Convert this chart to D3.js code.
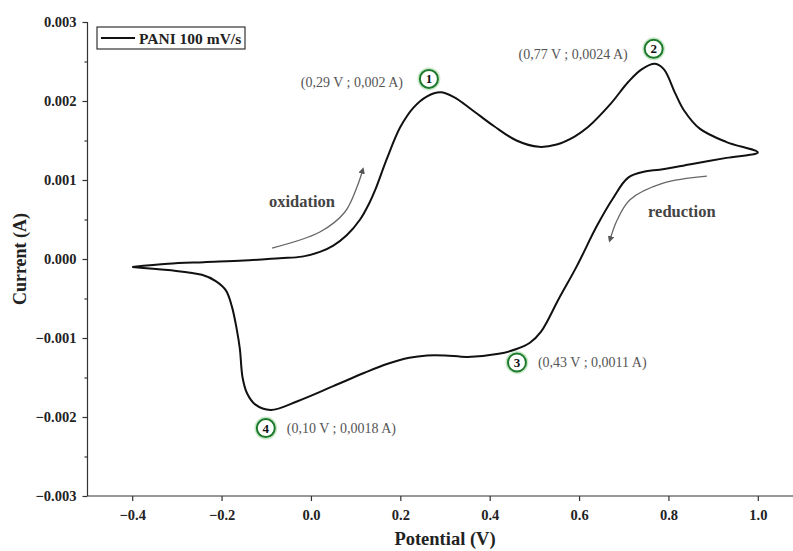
<!DOCTYPE html>
<html>
<head>
<meta charset="utf-8">
<script src="https://cdn.jsdelivr.net/npm/d3@7"></script>
<style>
    body { margin: 0; background: #fff; }
    svg { display: block; font-family: "Liberation Serif", "DejaVu Serif", serif; }
    .axis path, .axis line { stroke: #333; stroke-width: 1.2; }
    .axis text { font-size: 14.5px; font-weight: bold; fill: #222; font-family: "Liberation Serif", serif; }
</style>
</head>
<body>
<div id="chart"></div>
<script>
// Cyclic voltammogram of PANI at 100 mV/s.
const potential = [
    -0.40, -0.32, -0.24, -0.15, -0.07, -0.02, 0.02, 0.05, 0.08, 0.11, 0.13, 0.145,
    0.17, 0.20, 0.23, 0.26, 0.29, 0.32, 0.36, 0.41, 0.46, 0.51, 0.55, 0.59, 0.62,
    0.67, 0.71, 0.74, 0.77, 0.79, 0.815, 0.835, 0.87, 0.93, 1.00,
    0.93, 0.85, 0.78, 0.75, 0.71, 0.675, 0.64, 0.595, 0.555, 0.515, 0.49, 0.46,
    0.42, 0.35, 0.30, 0.26, 0.22, 0.17, 0.12, 0.05, -0.03, -0.09, -0.125, -0.143,
    -0.153, -0.159, -0.166, -0.177, -0.19, -0.213, -0.244, -0.32, -0.40
];
const current = [
    -0.00010, -0.00006, -0.00004, -0.00002, 0.00001, 0.00003, 0.00009, 0.00017, 0.00030, 0.00050, 0.00070, 0.00089,
    0.00127, 0.00167, 0.00192, 0.00206, 0.00211, 0.00205, 0.00189, 0.00168, 0.00150, 0.00142, 0.00145, 0.00155, 0.00167,
    0.00196, 0.00224, 0.00240, 0.00247, 0.00240, 0.00210, 0.00188, 0.00165, 0.00148, 0.00135,
    0.00128, 0.00120, 0.00113, 0.00111, 0.00103, 0.00076, 0.00042, -0.00009, -0.00050, -0.00092, -0.00106, -0.00114,
    -0.00120, -0.00124, -0.00122, -0.00122, -0.00125, -0.00133, -0.00144, -0.00161, -0.00180, -0.00191, -0.00184, -0.00170,
    -0.00150, -0.00114, -0.00089, -0.00060, -0.00040, -0.00028, -0.00020, -0.00014, -0.00010
];

const xTicks = [-0.4, -0.2, 0.0, 0.2, 0.4, 0.6, 0.8, 1.0];
const yTicks = [-0.003, -0.002, -0.001, 0.000, 0.001, 0.002, 0.003];
const yMinorTicks = [-0.0025, -0.0015, -0.0005, 0.0005, 0.0015, 0.0025];

// Peak markers: number, anchor (V, A) of the circle, label text
const peakNumbers = ["1", "2", "3", "4"];
const peakCircleV = [0.264, 0.767, 0.461, -0.101];
const peakCircleI = [0.00228, 0.00266, -0.00131, -0.00214];
const peakLabels = ["(0,29 V ; 0,002 A)", "(0,77 V ; 0,0024 A)", "(0,43 V ; 0,0011 A)", "(0,10 V ; 0,0018 A)"];
const peakLabelSide = ["left", "left", "right", "right"];

// Scan-direction arrows (V, A)
const oxArrowV = [-0.087, 0.020, 0.076, 0.103, 0.116];
const oxArrowI = [0.000139, 0.000342, 0.000595, 0.000911, 0.00113];
const redArrowV = [0.886, 0.788, 0.714, 0.685, 0.669];
const redArrowI = [0.00105, 0.00096, 0.00075, 0.00049, 0.00024];

const margin = {top: 22, left: 87.5, bottom: 55, right: 0};
const width = 793, height = 551;
const plotW = 715, plotH = 474;

const x = d3.scaleLinear().domain([-0.5, 1.1]).range([margin.left, margin.left + plotW]);
const y = d3.scaleLinear().domain([-0.003, 0.003]).range([margin.top + plotH, margin.top]);

const svg = d3.select("#chart").append("svg")
    .attr("width", width)
    .attr("height", height);

svg.append("defs").append("marker")
    .attr("id", "arrowhead")
    .attr("viewBox", "0 0 10 10")
    .attr("refX", 6).attr("refY", 5)
    .attr("markerWidth", 5).attr("markerHeight", 5)
    .attr("orient", "auto")
    .append("path")
    .attr("d", "M0,0 L10,5 L0,10 z")
    .attr("fill", "#555");

// Axes
const xAxis = d3.axisBottom(x).tickValues(xTicks).tickFormat(d3.format(".1f")).tickSize(5).tickPadding(9);
const yAxis = d3.axisLeft(y).tickValues(yTicks).tickFormat(d3.format(".3f")).tickSize(5).tickPadding(6);

svg.append("g")
    .attr("class", "x axis")
    .attr("transform", `translate(0, ${y(-0.003)})`)
    .call(xAxis)
    .call(g => g.select(".domain").attr("d", `M${x(-0.5)},0H${x(1.1)}`));

svg.append("g")
    .attr("class", "y axis")
    .attr("transform", `translate(${x(-0.5)}, 0)`)
    .call(yAxis)
    .call(g => g.select(".domain").attr("d", `M0,${y(-0.003)}V${y(0.003)}`));

svg.append("g")
    .attr("class", "y axis minor")
    .attr("transform", `translate(${x(-0.5)}, 0)`)
    .call(d3.axisLeft(y).tickValues(yMinorTicks).tickSize(3).tickFormat(""))
    .call(g => g.select(".domain").remove());

// Axis titles
svg.append("text")
    .attr("x", (x(-0.5) + x(1.1)) / 2)
    .attr("y", 545)
    .attr("text-anchor", "middle")
    .style("font-size", "18.5px")
    .style("font-weight", "bold")
    .style("fill", "#222")
    .text("Potential (V)");

svg.append("text")
    .attr("transform", `translate(26, ${y(0)}) rotate(-90)`)
    .attr("text-anchor", "middle")
    .style("font-size", "18px")
    .style("font-weight", "bold")
    .style("fill", "#222")
    .text("Current (A)");

// CV loop
const loop = d3.zip(potential, current);
const line = d3.line()
    .x(d => x(d[0]))
    .y(d => y(d[1]))
    .curve(d3.curveCatmullRom.alpha(0.5));

svg.append("path")
    .attr("d", line(loop))
    .attr("fill", "none")
    .attr("stroke", "#111")
    .attr("stroke-width", 2);

// Scan direction arrows
[[oxArrowV, oxArrowI], [redArrowV, redArrowI]].forEach(([vs, is]) => {
    svg.append("path")
        .attr("d", line(d3.zip(vs, is)))
        .attr("fill", "none")
        .attr("stroke", "#666")
        .attr("stroke-width", 1.3)
        .attr("marker-end", "url(#arrowhead)");
});

svg.append("text")
    .attr("x", x(oxArrowV[0]) + 30)
    .attr("y", y(0.00066))
    .attr("text-anchor", "middle")
    .style("font-size", "16.5px")
    .style("font-weight", "bold")
    .style("fill", "#444")
    .text("oxidation");

svg.append("text")
    .attr("x", x(redArrowV[0]) - 25)
    .attr("y", y(0.00053))
    .attr("text-anchor", "middle")
    .style("font-size", "16.5px")
    .style("font-weight", "bold")
    .style("fill", "#444")
    .text("reduction");

// Peak markers
const labelDy = [8, 10, 5, 5];
peakNumbers.forEach((n, i) => {
    const cx = x(peakCircleV[i]), cy = y(peakCircleI[i]);
    svg.append("circle")
        .attr("cx", cx).attr("cy", cy).attr("r", 9)
        .attr("fill", "none")
        .attr("stroke", "#a8dca8")
        .attr("stroke-width", 5)
        .attr("opacity", 0.6);
    svg.append("circle")
        .attr("cx", cx).attr("cy", cy).attr("r", 9)
        .attr("fill", "#fff")
        .attr("stroke", "#1d7a2c")
        .attr("stroke-width", 2);
    svg.append("text")
        .attr("x", cx).attr("y", cy + 4.5)
        .attr("text-anchor", "middle")
        .style("font-size", "13px")
        .style("font-weight", "bold")
        .style("fill", "#111")
        .text(n);
    const left = peakLabelSide[i] === "left";
    svg.append("text")
        .attr("x", left ? cx - 26 : cx + 21)
        .attr("y", cy + labelDy[i])
        .attr("text-anchor", left ? "end" : "start")
        .style("font-size", "14px")
        .style("fill", "#555")
        .text(peakLabels[i]);
});

// Legend
const legend = svg.append("g").attr("transform", `translate(97, 27)`);
legend.append("rect")
    .attr("width", 148).attr("height", 22)
    .attr("fill", "#fff")
    .attr("stroke", "#333")
    .attr("stroke-width", 1.2);
legend.append("line")
    .attr("x1", 4).attr("x2", 38)
    .attr("y1", 11).attr("y2", 11)
    .attr("stroke", "#111").attr("stroke-width", 2);
legend.append("text")
    .attr("x", 42).attr("y", 16.5)
    .style("font-size", "15.5px")
    .style("font-weight", "bold")
    .style("fill", "#222")
    .text("PANI 100 mV/s");
</script>
</body>
</html>
